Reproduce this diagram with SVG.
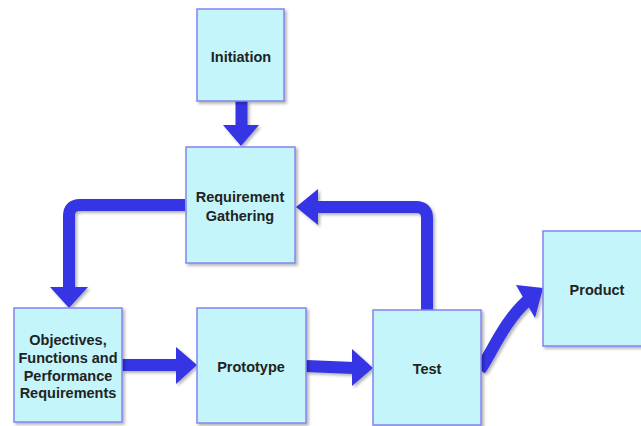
<svg xmlns="http://www.w3.org/2000/svg" width="641" height="426" viewBox="0 0 641 426">
<style>
.box{fill:#c3f5fa;stroke:#8383f2;stroke-width:1.5}
.lbl{font-family:"Liberation Sans",Arial,sans-serif;font-weight:bold;font-size:14.5px;fill:#222;text-anchor:middle}
.shaft{fill:none;stroke:#3434e6;stroke-width:12}
.head{fill:#3434e6}
</style>
<defs>
<filter id="sh" x="-10%" y="-10%" width="130%" height="130%">
<feDropShadow dx="2" dy="2" stdDeviation="1.5" flood-color="#000" flood-opacity="0.3"/>
</filter>
</defs>
<rect width="641" height="426" fill="#fff"/>
<g id="connectors" filter="url(#sh)">
<path class="shaft" d="M241.5,101 V127"/>
<polygon class="head" points="223,125 259,125 241,146"/>
<path class="shaft" d="M185,205 H80 Q69,205 69,216 V289"/>
<polygon class="head" points="50,287 88,287 69,308"/>
<path class="shaft" d="M122,365 H178"/>
<polygon class="head" points="176,347 176,384 197,365"/>
<path class="shaft" d="M306,366 L354,368"/>
<polygon class="head" points="352,349 352,386 373,368"/>
<path class="shaft" d="M427,310 V218 Q427,207 416,207 H316"/>
<polygon class="head" points="318,189 318,225 296,207"/>
<path class="shaft" d="M480,370 C492,352 505,320 528,300"/>
<polygon class="head" points="516,285 535,318 543,288"/>
</g>
<g id="initiation"><rect class="box" x="197" y="9" width="87" height="92" filter="url(#sh)"/><text class="lbl" x="241" y="62">Initiation</text></g>
<g id="requirement-gathering"><rect class="box" x="186" y="147" width="109" height="116" filter="url(#sh)"/><text class="lbl" x="240" y="202">Requirement</text><text class="lbl" x="240" y="221">Gathering</text></g>
<g id="objectives"><rect class="box" x="14" y="308" width="108" height="114" filter="url(#sh)"/><text class="lbl" x="68" y="345">Objectives,</text><text class="lbl" x="68" y="363">Functions and</text><text class="lbl" x="68" y="381">Performance</text><text class="lbl" x="68" y="398">Requirements</text></g>
<g id="prototype"><rect class="box" x="197" y="308" width="109" height="115" filter="url(#sh)"/><text class="lbl" x="251" y="372">Prototype</text></g>
<g id="test"><rect class="box" x="373" y="310" width="108" height="115" filter="url(#sh)"/><text class="lbl" x="427" y="374">Test</text></g>
<g id="product"><rect class="box" x="543" y="231" width="102" height="115" filter="url(#sh)"/><text class="lbl" x="597" y="295">Product</text></g>
</svg>
